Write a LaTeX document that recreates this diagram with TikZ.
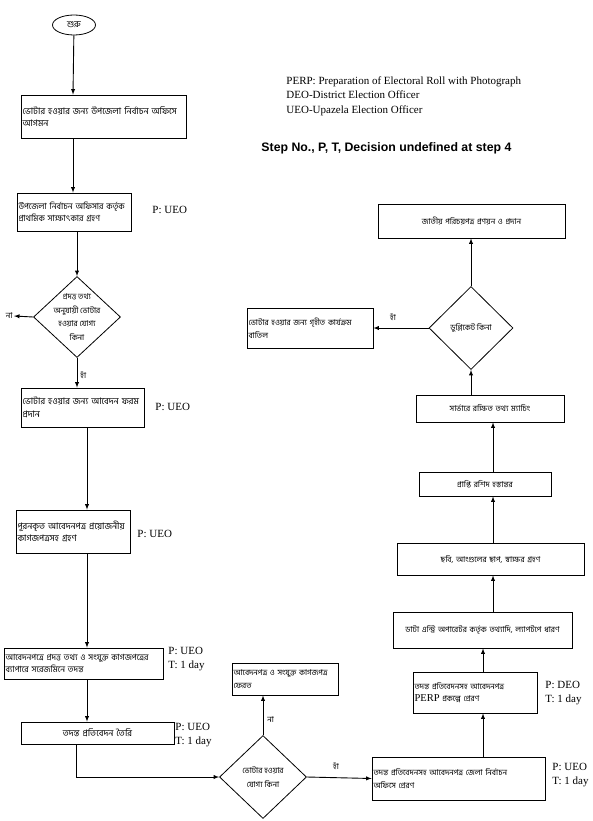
\documentclass[tikz,border=0pt]{standalone}
\usepackage{fontspec}
\setmainfont{Liberation Serif}
\newfontfamily\bn[Script=Bengali]{Hind Siliguri}
\newfontfamily\arl{Liberation Sans}
\usepackage{tikz}
\usetikzlibrary{arrows,shapes,calc}
\tikzstyle{blk}=[rectangle, draw, line width=0.8pt, inner sep=1.5pt,% plain process box
font=\bn\fontsize{9}{12.5}\selectfont]
\tikzstyle{sblk}=[blk, font=\bn\fontsize{8}{12.5}\selectfont]
\tikzstyle{decblk}=[diamond, draw, line width=0.8pt, inner sep=0pt]
\tikzstyle{startblk}=[ellipse, draw, line width=0.8pt, minimum width=43pt, minimum height=20pt,
font=\bn\fontsize{9}{12}\selectfont]
\tikzstyle{pt}=[anchor=north west, align=left, inner sep=0pt, font=\fontsize{11}{14}\selectfont]
\tikzstyle{yn}=[inner sep=1pt, font=\bn\fontsize{8}{13.5}\selectfont]
\tikzstyle{fline}=[line width=0.9pt]

\begin{document}
\begin{tikzpicture}[x=1pt,y=-1pt,fline]
\useasboundingbox (0,0) rectangle (593,821);

\node[startblk] (s0) at (74,25) {শুরু};

% left column
\node[blk, text width=162pt, minimum height=43pt, align=left] (b1) at (103.5,116.5) {ভোটার হওয়ার জন্য উপজেলা নির্বাচন অফিসে\\আগমন};
\node[blk, text width=111pt, minimum height=38pt, align=left, font=\bn\fontsize{8.5}{11.5}\selectfont] (b2) at (74,212) {উপজেলা নির্বাচন অফিসার কর্তৃক\\প্রাথমিক সাক্ষাৎকার গ্রহণ};
\node[decblk, minimum width=87pt, minimum height=81pt,
  label={[yn, align=center]center:{প্রদত্ত তথ্য\\অনুযায়ী ভোটার\\হওয়ার যোগ্য\\কিনা}}] (d1) at (77,317) {};
\node[blk, text width=120pt, minimum height=39pt, align=left] (b3) at (82.5,407.5) {ভোটার হওয়ার জন্য আবেদন ফরম\\প্রদান};
\node[blk, text width=111pt, minimum height=43pt, align=left] (b4) at (73,531.5) {পূরনকৃত আবেদনপত্র প্রয়োজনীয়\\কাগজপত্রসহ গ্রহণ};
\node[blk, text width=156pt, minimum height=31pt, align=left, font=\bn\fontsize{8.5}{12.5}\selectfont] (b5) at (83.5,663.5) {আবেদনপত্রে প্রদত্ত তথ্য ও সংযুক্ত কাগজপত্রের\\ব্যাপারে সরেজমিনে তদন্ত};
\node[blk, text width=150pt, minimum height=22pt, align=center] (b6) at (97.5,733) {তদন্ত প্রতিবেদন তৈরি};

% bottom middle
\node[decblk, minimum width=87pt, minimum height=83pt,
  label={[yn, align=center]center:{ভোটার হওয়ার\\যোগ্য কিনা}}] (d2) at (263,777) {};
\node[sblk, text width=103pt, minimum height=32pt, align=left] (b7) at (285,679) {আবেদনপত্র ও সংযুক্ত কাগজপত্র\\ফেরত};

% right column
\node[sblk, text width=170pt, minimum height=43pt, align=left] (b8) at (458.5,778.5) {তদন্ত প্রতিবেদনসহ আবেদনপত্র জেলা নির্বাচন\\অফিসে প্রেরণ};
\node[sblk, text width=121pt, minimum height=41pt, align=left] (b9) at (475,692.5) {তদন্ত প্রতিবেদনসহ আবেদনপত্র\\{\rmfamily\fontsize{10.5}{12}\selectfont PERP} প্রকল্পে প্রেরণ};
\node[sblk, text width=176pt, minimum height=36pt, align=center] (b10) at (482.5,630) {ডাটা এন্ট্রি অপারেটর কর্তৃক তথ্যাদি, ল্যাপটপে ধারণ};
\node[sblk, text width=184pt, minimum height=32pt, align=center] (b11) at (490.5,559) {ছবি, আংগুলের ছাপ, স্বাক্ষর গ্রহণ};
\node[sblk, text width=129pt, minimum height=24pt, align=center] (b12) at (485,484) {প্রাপ্তি রশিদ হস্তান্তর};
\node[sblk, text width=145pt, minimum height=27pt, align=center] (b13) at (490,408.5) {সার্ভারে রক্ষিত তথ্য ম্যাচিং};
\node[decblk, minimum width=84pt, minimum height=83pt,
  label={[yn]center:{ডুপ্লিকেট কিনা}}] (d3) at (471,328) {};
\node[sblk, text width=184pt, minimum height=34pt, align=center] (b14) at (471.5,221) {জাতীয় পরিচয়পত্র প্রণয়ন ও প্রদান};
\node[sblk, text width=123pt, minimum height=40pt, align=left] (b15) at (310,328) {ভোটার হওয়ার জন্য গৃহীত কার্যক্রম\\বাতিল};

% who and how long
\node[pt] (p2) at (152,206) {P: UEO};
\node[pt] (p3) at (155,403) {P: UEO};
\node[pt] (p4) at (137,530) {P: UEO};
\node[pt] (p5) at (168,647) {P: UEO\\T: 1 day};
\node[pt] (p6) at (175,723) {P: UEO\\T: 1 day};
\node[pt] (p8) at (552,763) {P: UEO\\T: 1 day};
\node[pt] (p9) at (545,681) {P: DEO\\T: 1 day};

% legend
\node[anchor=north west, align=left, inner sep=0pt, font=\fontsize{11}{14.5}\selectfont] (lgd) at (286,76)
  {PERP: Preparation of Electoral Roll with Photograph\\DEO-District Election Officer\\UEO-Upazela Election Officer};
\node[anchor=north west, inner sep=0pt, font=\arl\bfseries\fontsize{12.3}{14}\selectfont] (note) at (261,142)
  {Step No., P, T, Decision undefined at step 4};

\coordinate (colA) at (73,0);
\coordinate (colB) at (87,0);
\coordinate (colC) at (76,0);
\coordinate (colD) at (483,0);
\coordinate (colE) at (493,0);
\coordinate (no1) at (14,316);

\draw [-{latex[slant=0]}]  (s0) -- (b1.north -| colA);
\draw [-{latex[slant=0]}]  (b1.south -| colA) -- (b2.north -| colA);
\draw [-{latex[slant=0]}]  (b2.south -| d1.north) -- (d1.north);
\draw [-{latex[slant=0]}]  (d1.west) -- (no1);
\draw [-{latex[slant=0]}]  (d1.south) -- (b3.north -| d1.south);
\draw [-{latex[slant=0]}]  (b3.south -| colB) -- (b4.north -| colB);
\draw [-{latex[slant=0]}]  (b4.south -| colB) -- (b5.north -| colB);
\draw [-{latex[slant=0]}]  (b5.south -| colB) -- (b6.north -| colB);
\draw [-{latex[slant=0]}]  (b6.south -| colC) |- (d2.west);
\draw [-{latex[slant=0]}]  (d2.north) -- (b7.south -| d2.north);
\draw [-{latex[slant=0]}]  (d2.east) -- (b8.west);
\draw [-{latex[slant=0]}]  (b8.north -| colD) -- (b9.south -| colD);
\draw [-{latex[slant=0]}]  (b9.north -| colD) -- (b10.south -| colD);
\draw [-{latex[slant=0]}]  (b10.north -| colE) -- (b11.south -| colE);
\draw [-{latex[slant=0]}]  (b11.north -| colE) -- (b12.south -| colE);
\draw [-{latex[slant=0]}]  (b12.north -| colE) -- (b13.south -| colE);
\draw [-{latex[slant=0]}]  (b13.north -| d3.south) -- (d3.south);
\draw [-{latex[slant=0]}]  (d3.north) -- (b14.south -| d3.north);
\draw [-{latex[slant=0]}]  (d3.west) -- (b15.east);

\node[yn, anchor=east] (n1) at (no1) {না};
\node[yn, anchor=west] (y1) at (79,375) {হাঁ};
\node[yn, anchor=west] (n2) at (266,720) {না};
\node[yn] (y2) at (336,766) {হাঁ};
\node[yn] (y3) at (393,317) {হাঁ};

\end{tikzpicture}
\end{document}
